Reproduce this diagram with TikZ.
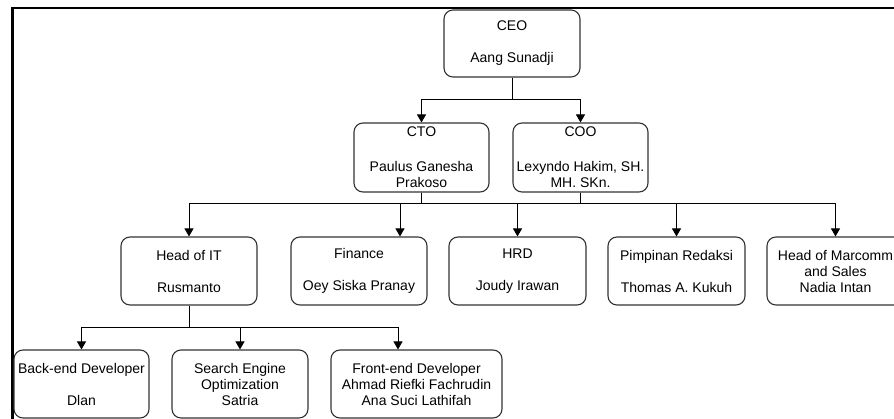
\documentclass[tikz,border=0pt]{standalone}
\usepackage{fontspec}
\setmainfont{Liberation Sans}
\usetikzlibrary{arrows.meta}
\definecolor{outline}{RGB}{51, 51, 51}

\begin{document}
\begin{tikzpicture}[x=1pt, y=-1pt,
        role/.style={draw=outline, line width=1.1pt, rounded corners=9pt, align=center, inner sep=0pt,
                     minimum width=136pt, minimum height=68pt, font=\fontsize{14}{16}\selectfont},
        wire/.style={line width=1pt},
        feed/.style={wire, -{Triangle[length=8pt, width=9pt]}}]
            \clip (0,0) rectangle (894,419);
            \draw[line width=2.5pt] (12.5,8) rectangle (960,480);
            % top
            \node[role, minimum height=67pt]                 (ceo)      at (512.0, 43.5) {CEO\\[16pt]Aang Sunadji};
            \node[role, minimum width=135pt, minimum height=69pt] (cto)  at (421.5,157.5) {CTO\\[19pt]Paulus Ganesha\\Prakoso};
            \node[role, minimum width=135pt, minimum height=69pt] (coo)  at (580.5,157.5) {COO\\[19pt]Lexyndo Hakim, SH.\\MH. SKn.};
            % departments
            \node[role]                                      (headit)   at (189.0,271.0) {Head of IT\\[16pt]Rusmanto};
            \node[role]                                      (finance)  at (359.0,271.0) {Finance\\[16pt]Oey Siska Pranay};
            \node[role, minimum width=137pt]                 (hrd)      at (517.5,271.0) {HRD\\[16pt]Joudy Irawan};
            \node[role, minimum width=137pt]                 (redaksi)  at (676.5,271.0) {Pimpinan Redaksi\\[16pt]Thomas A. Kukuh};
            \node[role, minimum width=137pt]                 (marcomm)  at (835.5,271.0) {Head of Marcomm\\and Sales\\Nadia Intan};
            % IT team
            \node[role, minimum width=135pt]                 (backend)  at ( 81.5,384.0) {Back-end Developer\\[16pt]Dlan};
            \node[role]                                      (seo)      at (240.0,384.0) {Search Engine\\Optimization\\Satria};
            \node[role, minimum width=171pt]                 (frontend) at (416.5,384.0) {Front-end Developer\\Ahmad Riefki Fachrudin\\Ana Suci Lathifah};
            % connectors
            \draw[feed] (ceo.south) -- ++(0,22) -| (cto.north);
            \draw[feed] (ceo.south) -- ++(0,22) -| (coo.north);
            \draw[wire] (cto.south) -- ++(0,11) -| (coo.south);
            \draw[feed] (cto.south) -- ++(0,11) -| (headit.north);
            \draw[feed] (cto.south) -- ++(0,11) -| ([xshift=41pt]finance.north);
            \foreach \dept in {hrd, redaksi, marcomm}
                \draw[feed] (coo.south) -- ++(0,11) -| (\dept.north);
            \draw[feed] (headit.south) -- ++(0,22) -| (backend.north);
            \draw[feed] (headit.south) -- ++(0,22) -| (seo.north);
            \draw[feed] (headit.south) -- ++(0,22) -| ([xshift=-18.5pt]frontend.north);
        \end{tikzpicture}
\end{document}
